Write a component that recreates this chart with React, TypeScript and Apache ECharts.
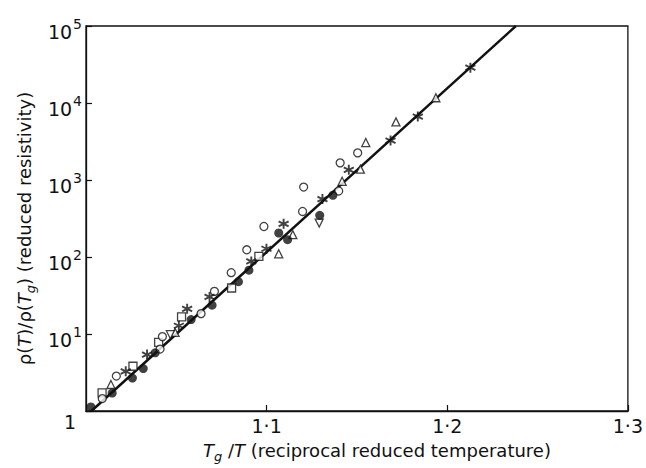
import React, { useEffect, useRef } from 'react';
import * as echarts from 'echarts';

// Tg/T (x) vs reduced resistivity (y, log scale)
const filledCircles: [number, number][] = [
  [1.0027, 1.13], [1.0145, 1.71], [1.0257, 2.68], [1.0317, 3.56], [1.0383, 5.69],
  [1.0582, 15.4], [1.0698, 23.7], [1.0844, 47.8], [1.0902, 67.4], [1.1067, 205],
  [1.1116, 168], [1.1294, 348], [1.1367, 634],
];
const openCircles: [number, number][] = [
  [1.009, 1.45], [1.0168, 2.84], [1.041, 6.37], [1.0423, 9.25], [1.0637, 18.4],
  [1.0711, 35.8], [1.0804, 62.6], [1.089, 124], [1.0985, 249], [1.1199, 390],
  [1.1205, 809], [1.1399, 720], [1.1407, 1670], [1.1504, 2250],
];
const openSquares: [number, number][] = [
  [1.0089, 1.72], [1.026, 3.81], [1.0402, 7.8], [1.0529, 16.7], [1.0806, 39.6], [1.0957, 102],
];
const asterisks: [number, number][] = [
  [1.022, 3.28], [1.0338, 5.41], [1.0514, 12.8], [1.056, 21.2], [1.0684, 30.3],
  [1.0915, 87.7], [1.0999, 128], [1.1094, 270], [1.1309, 565], [1.1455, 1356],
  [1.1686, 3252], [1.1837, 6670], [1.2128, 28800],
];
const triangles: [number, number][] = [
  [1.0138, 2.21], [1.0493, 10.5], [1.1067, 110], [1.1145, 195], [1.1418, 962],
  [1.1519, 1385], [1.1549, 3065], [1.1716, 5690], [1.1937, 11700],
];
const invertedTriangles: [number, number][] = [
  [1.0467, 9.8], [1.1291, 276],
];
const fitLineX = [1.003, 1.238];
const fitLineY = [1, 100000];

const xTicks = { min: 1, max: 1.3, interval: 0.1 };
const yTicks = { min: 1, max: 100000 };

const INK = '#111';
const FONT = 'DejaVu Sans';

export default function App() {
  const ref = useRef<HTMLDivElement>(null);
  useEffect(() => {
    if (!ref.current) return;
    const chart = echarts.init(ref.current, undefined, { renderer: 'svg' });
    const openStyle = { color: '#fff', borderColor: INK, borderWidth: 1.3 };
    const option: any = {
      animation: false,
      backgroundColor: '#fff',
      grid: {
        left: 86, right: 11, top: 26, bottom: 56.5,
        show: true, borderColor: INK, borderWidth: 1.3, backgroundColor: 'transparent',
      },
      xAxis: {
        type: 'value',
        min: xTicks.min, max: xTicks.max, interval: xTicks.interval,
        splitLine: { show: false },
        axisLine: { lineStyle: { color: INK, width: 1.3 } },
        axisTick: { inside: true, length: 6, lineStyle: { color: INK, width: 1.2 } },
        axisLabel: {
          color: INK, fontFamily: FONT, fontSize: 19, margin: 5, showMaxLabel: true,
          formatter: (v: number) => (Math.abs(v - 1) < 1e-9 ? '' : v.toFixed(1).replace('.', '·')),
        },
        name: '{it|T}{sub|g} /{it|T} (reciprocal reduced temperature)',
        nameLocation: 'middle',
        nameGap: 29,
        nameTextStyle: {
          color: INK, fontFamily: FONT, fontSize: 18, padding: [0, 0, 0, 40],
          rich: {
            it: { fontStyle: 'italic', fontSize: 18, fontFamily: FONT, color: INK, lineHeight: 20 },
            sub: { fontStyle: 'italic', fontSize: 13, fontFamily: FONT, color: INK, lineHeight: 13, padding: [10, 0, 0, 0], verticalAlign: 'top' },
          },
        },
      },
      yAxis: {
        type: 'log', logBase: 10,
        min: yTicks.min, max: yTicks.max,
        splitLine: { show: false },
        minorTick: { show: false },
        axisLine: { lineStyle: { color: INK, width: 1.3 } },
        axisTick: { inside: true, length: 6, lineStyle: { color: INK, width: 1.2 } },
        axisLabel: {
          color: INK, fontFamily: FONT, fontSize: 19, margin: 4,
          formatter: (v: number) => {
            const e = Math.round(Math.log10(v));
            if (e === 0) return '{one|1}';
            return `{b|10}{s|${e}}`;
          },
          rich: {
            b: { fontSize: 19, fontFamily: FONT, color: INK, lineHeight: 19, padding: [6, 0, 6, 0], verticalAlign: 'top' },
            s: { fontSize: 14, fontFamily: FONT, color: INK, lineHeight: 14, verticalAlign: 'top', padding: [0, 0, 0, 1] },
            one: { fontSize: 19, fontFamily: FONT, color: INK, padding: [22, 6, 0, 0] },
          },
        },
        name: 'ρ({it|T})/ρ({it|T}{sub|g}) (reduced resistivity)',
        nameLocation: 'middle',
        nameRotate: 90,
        nameGap: 44,
        nameTextStyle: {
          color: INK, fontFamily: FONT, fontSize: 18, padding: [0, 20, 0, 0],
          rich: {
            it: { fontStyle: 'italic', fontSize: 18, fontFamily: FONT, color: INK, lineHeight: 20 },
            sub: { fontStyle: 'italic', fontSize: 13, fontFamily: FONT, color: INK, lineHeight: 13, padding: [10, 0, 0, 0], verticalAlign: 'top' },
          },
        },
      },
      series: [
        {
          type: 'line', name: 'fit', z: 1, silent: true, showSymbol: false,
          data: fitLineX.map((x, i) => [x, fitLineY[i]]),
          lineStyle: { color: INK, width: 2.5 },
        },
        { type: 'scatter', name: 'squares', z: 3, symbol: 'rect', symbolSize: 8, data: openSquares, itemStyle: openStyle },
        { type: 'scatter', name: 'open circles', z: 3, symbol: 'circle', symbolSize: 8, data: openCircles, itemStyle: openStyle },
        { type: 'scatter', name: 'triangles', z: 3, symbol: 'triangle', symbolSize: 8, data: triangles, itemStyle: openStyle },
        { type: 'scatter', name: 'inverted triangles', z: 3, symbol: 'triangle', symbolRotate: 180, symbolSize: 8, data: invertedTriangles, itemStyle: openStyle },
        { type: 'scatter', name: 'filled circles', z: 4, symbol: 'circle', symbolSize: 9, data: filledCircles, itemStyle: { color: INK } },
        {
          type: 'scatter', name: 'asterisks', z: 4,
          symbol: 'path://M5,0L5,10M0.67,2.5L9.33,7.5M0.67,7.5L9.33,2.5',
          symbolSize: 10, data: asterisks,
          itemStyle: { color: 'transparent', borderColor: INK, borderWidth: 1.9 },
        },
      ],
    };
    chart.setOption(option);
    return () => chart.dispose();
  }, []);
  return <div ref={ref} style={{ position: 'fixed', left: 0, top: 0, width: 646, height: 468, background: '#fff' }} />;
}
